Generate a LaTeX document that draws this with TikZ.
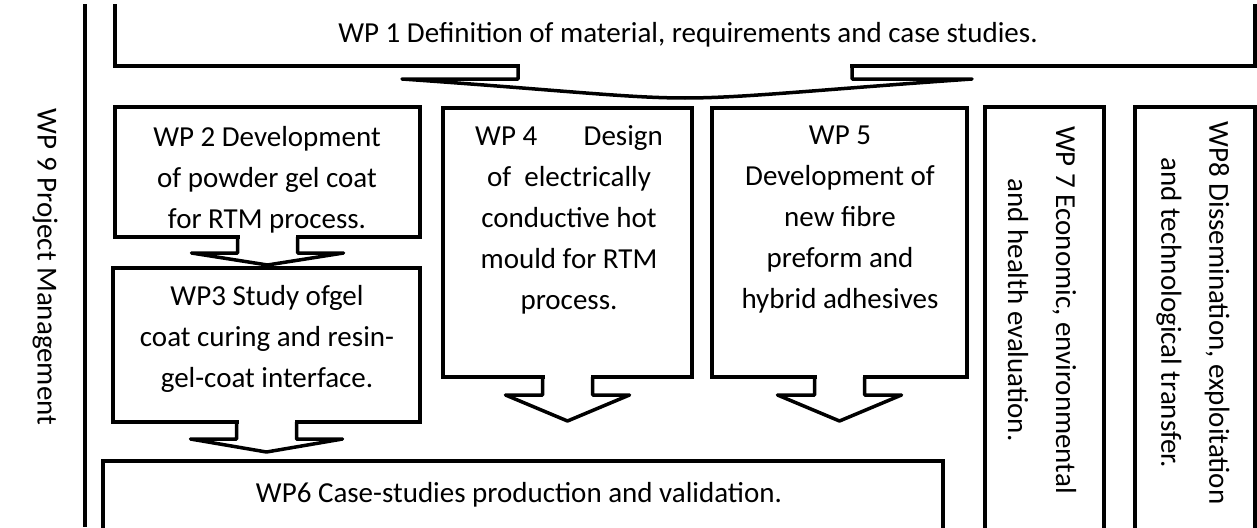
\documentclass[tikz,border=0pt]{standalone}
\usepackage{fontspec}
\setmainfont{Carlito}
\usetikzlibrary{calc}
\usetikzlibrary{positioning}

\tikzset{
  wpline/.style={line width=3.5pt},
  wpbox/.style={draw, line width=3.5pt, inner sep=0pt, outer sep=0pt, anchor=north west},
  wptext/.style={align=center, inner sep=0pt, font=\fontsize{29}{41}\selectfont},
  wpside/.style={wptext, rotate=-90, font=\fontsize{29}{48}\selectfont},
  wparrow/.style={draw, line width=3.5pt, line join=round}
}

\begin{document}
\begin{tikzpicture}[x=1pt, y=-1pt]

  \useasboundingbox (0,0) rectangle (1257,527);
  \clip (0,5) rectangle (1257,527);

  % work package boxes
  \node[wpbox, minimum width=1140, minimum height=106] (wp1) at (115,-40) {};
  \node[wpbox, minimum width=305, minimum height=130] (wp2) at (115,107) {};
  \node[wpbox, minimum width=307, minimum height=154] (wp3) at (113,268) {};
  \node[wpbox, minimum width=249, minimum height=269] (wp4) at (443,108) {};
  \node[wpbox, minimum width=255, minimum height=269] (wp5) at (712,108) {};
  \node[wpbox, minimum width=840, minimum height=100] (wp6) at (103,461) {};
  \node[wpbox, minimum width=119, minimum height=440] (wp7) at (985,107) {};
  \node[wpbox, minimum width=120, minimum height=440] (wp8) at (1135,107) {};

  % project management rule
  \coordinate (pmtop) at (85,0);
  \coordinate (pmbot) at (85,527);
  \draw[wpline] (pmtop) -- (pmbot);

  % texts
  \node[wptext] (wp1t) at (688,35) {WP 1 Definition of material, requirements and case studies.};
  \node[wptext] (wp2t) at (267,180) {WP 2 Development\\of powder gel coat\\for RTM process.};
  \node[wptext] (wp3t) at (267,339) {WP3 Study ofgel\\coat curing and resin-\\gel-coat interface.};
  \node[wptext] (wp4t) at (569,220) {WP 4\hspace{1.6em}Design\\of\ \ electrically\\conductive hot\\mould for RTM\\process.};
  \node[wptext] (wp5t) at (840,220) {WP 5\\Development of\\new fibre\\preform and\\hybrid adhesives};
  \node[wptext] (wp6t) at (519,495) {WP6 Case-studies production and validation.};
  \node[wpside] (wp7t) at (1042,310) {WP 7 Economic, environmental\\and health evaluation.};
  \node[wpside] (wp8t) at (1193,313) {WP8 Dissemination, exploitation\\and technological transfer.};
  \node[wpside] (wp9t) at (45,267) {WP 9 Project Management};

  % WP1 -> WP2..WP5
  \fill[white] ($(wp1.south)+(-165,-5)$) rectangle ($(wp1.south)+(165,5)$);
  \draw[wparrow] ($(wp1.south)+(-167,0)$) -- ++(0,13) -- ++(-116,0)
    .. controls +(158,11) and +(-58,0) .. ($(wp1.south)+(0,32)$)
    .. controls +(58,0) and +(-158,11) .. ($(wp1.south)+(287,13)$)
    -- ++(-120,0) -- ++(0,-13);

  % WP2 -> WP3
  \fill[white] ($(wp2.south)+(-28,-4)$) rectangle ($(wp2.south)+(28,4)$);
  \draw[wparrow] ($(wp2.south)+(-30,0)$) -- ++(0,16) -- ++(-46,0)
    -- ($(wp2.south)+(0,28)$) -- ($(wp2.south)+(76,16)$) -- ++(-46,0) -- ++(0,-16);

  % WP3 -> WP6
  \fill[white] ($(wp3.south)+(-28,-4)$) rectangle ($(wp3.south)+(28,4)$);
  \draw[wparrow] ($(wp3.south)+(-30,0)$) -- ++(0,17) -- ++(-46,0)
    -- ($(wp3.south)+(0,30)$) -- ($(wp3.south)+(76,17)$) -- ++(-46,0) -- ++(0,-17);

  % WP4 -> WP6
  \fill[white] ($(wp4.south)+(-23,-4)$) rectangle ($(wp4.south)+(23,4)$);
  \draw[wparrow] ($(wp4.south)+(-25,0)$) -- ++(0,18) -- ++(-37,0)
    -- ($(wp4.south)+(0,44)$) -- ($(wp4.south)+(62,18)$) -- ++(-37,0) -- ++(0,-18);

  % WP5 -> WP6
  \fill[white] ($(wp5.south)+(-23,-4)$) rectangle ($(wp5.south)+(23,4)$);
  \draw[wparrow] ($(wp5.south)+(-25,0)$) -- ++(0,18) -- ++(-37,0)
    -- ($(wp5.south)+(0,44)$) -- ($(wp5.south)+(62,18)$) -- ++(-37,0) -- ++(0,-18);

\end{tikzpicture}
\end{document}
